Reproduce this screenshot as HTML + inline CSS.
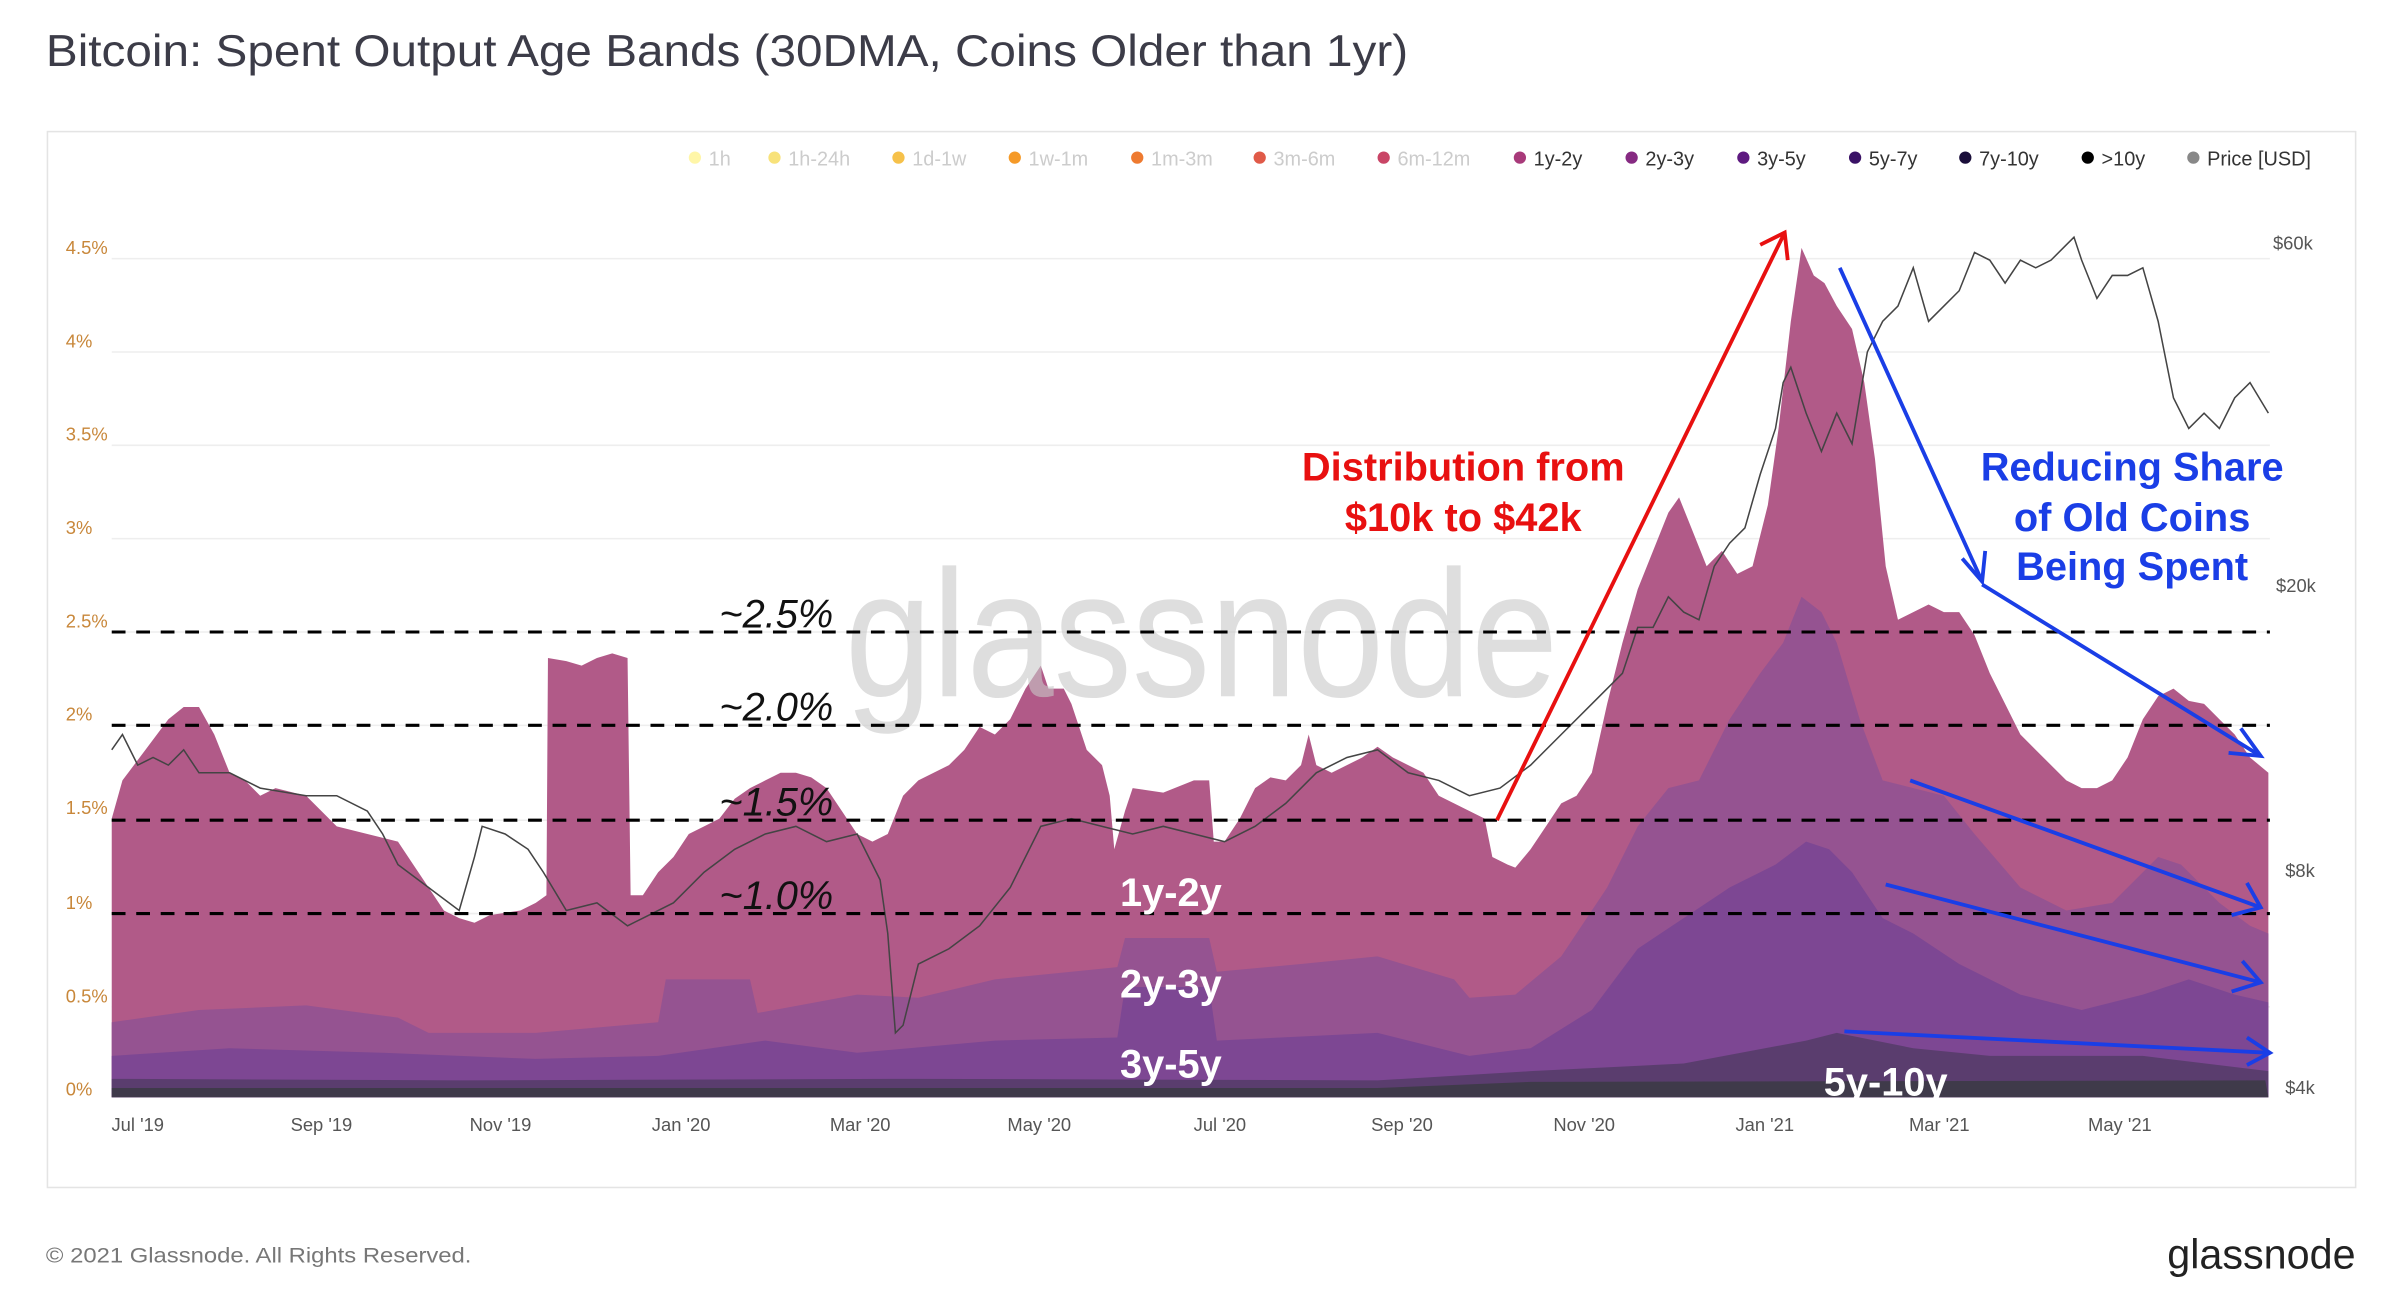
<!DOCTYPE html>
<html><head><meta charset="utf-8"><style>html,body{margin:0;padding:0;background:#fff}svg{display:block}</style></head><body>
<svg width="2400" height="1290" viewBox="0 0 1568 843" preserveAspectRatio="none" xmlns="http://www.w3.org/2000/svg" font-family="Liberation Sans, sans-serif">
<rect width="1568" height="843" fill="#fff"/>
<text x="30" y="43" font-size="29" fill="#3c3c48" textLength="890" lengthAdjust="spacingAndGlyphs">Bitcoin: Spent Output Age Bands (30DMA, Coins Older than 1yr)</text>
<rect x="31" y="86" width="1508" height="690" fill="#fff" stroke="#e4e4e4"/>
<g font-size="13">
<g fill="#ccc"><circle cx="454" cy="103" r="4" fill="#fff6a8"/><text x="463" y="108">1h</text>
<circle cx="506" cy="103" r="4" fill="#f8e27a"/><text x="515" y="108">1h-24h</text>
<circle cx="587" cy="103" r="4" fill="#f6c14a"/><text x="596" y="108">1d-1w</text>
<circle cx="663" cy="103" r="4" fill="#f59a28"/><text x="672" y="108">1w-1m</text>
<circle cx="743" cy="103" r="4" fill="#ee7a30"/><text x="752" y="108">1m-3m</text>
<circle cx="823" cy="103" r="4" fill="#e05a48"/><text x="832" y="108">3m-6m</text>
<circle cx="904" cy="103" r="4" fill="#c94566"/><text x="913" y="108">6m-12m</text></g>
<g fill="#333"><circle cx="993" cy="103" r="4" fill="#a83a7a"/><text x="1002" y="108">1y-2y</text>
<circle cx="1066" cy="103" r="4" fill="#862a82"/><text x="1075" y="108">2y-3y</text>
<circle cx="1139" cy="103" r="4" fill="#5e1a80"/><text x="1148" y="108">3y-5y</text>
<circle cx="1212" cy="103" r="4" fill="#3a1266"/><text x="1221" y="108">5y-7y</text>
<circle cx="1284" cy="103" r="4" fill="#1a0e3a"/><text x="1293" y="108">7y-10y</text>
<circle cx="1364" cy="103" r="4" fill="#000"/><text x="1373" y="108">&gt;10y</text>
<circle cx="1433" cy="103" r="4" fill="#888"/><text x="1442" y="108">Price [USD]</text></g>
</g>
<g stroke="#eee" stroke-width="1">
<line x1="73" x2="1483" y1="169" y2="169"/><line x1="73" x2="1483" y1="230" y2="230"/><line x1="73" x2="1483" y1="291" y2="291"/><line x1="73" x2="1483" y1="352" y2="352"/><line x1="73" x2="1483" y1="413" y2="413"/><line x1="73" x2="1483" y1="474" y2="474"/><line x1="73" x2="1483" y1="536" y2="536"/><line x1="73" x2="1483" y1="597" y2="597"/><line x1="73" x2="1483" y1="658" y2="658"/>
</g>
<g font-size="12" fill="#c8873a">
<text x="43" y="166">4.5%</text><text x="43" y="227">4%</text><text x="43" y="288">3.5%</text><text x="43" y="349">3%</text><text x="43" y="410">2.5%</text><text x="43" y="471">2%</text><text x="43" y="532">1.5%</text><text x="43" y="594">1%</text><text x="43" y="655">0.5%</text><text x="43" y="716">0%</text>
</g>
<g font-size="12" fill="#555"><text x="1485" y="163">$60k</text><text x="1487" y="387">$20k</text><text x="1493" y="573">$8k</text><text x="1493" y="715">$4k</text></g>
<g font-size="12" fill="#555" text-anchor="middle">
<text x="90" y="739">Jul '19</text><text x="210" y="739">Sep '19</text><text x="327" y="739">Nov '19</text><text x="445" y="739">Jan '20</text><text x="562" y="739">Mar '20</text><text x="679" y="739">May '20</text><text x="797" y="739">Jul '20</text><text x="916" y="739">Sep '20</text><text x="1035" y="739">Nov '20</text><text x="1153" y="739">Jan '21</text><text x="1267" y="739">Mar '21</text><text x="1385" y="739">May '21</text>
</g>
<polygon fill="#b15a88" points="73,717 73,535 80,510 95,490 110,470 120,462 130,462 140,480 150,505 160,510 170,520 180,515 200,520 220,540 240,545 260,550 270,565 280,580 290,595 300,600 310,603 320,598 340,595 350,590 357,585 358,430 370,432 380,435 390,430 400,427 410,430 412,585 420,585 430,570 440,560 450,545 460,540 470,535 480,522 490,515 500,510 510,505 520,505 530,508 540,515 550,530 560,545 570,550 580,545 590,520 600,510 610,505 620,500 630,490 640,475 650,480 660,470 670,450 680,435 685,450 695,450 700,460 710,490 720,500 725,520 728,555 735,530 740,515 760,518 780,510 790,510 793,550 800,550 810,535 820,515 830,508 840,510 850,500 855,480 860,500 870,505 880,500 890,495 900,488 910,495 920,500 930,505 940,520 950,525 960,530 970,535 975,560 985,565 990,567 1000,555 1010,540 1020,525 1030,520 1040,505 1050,460 1060,420 1070,385 1080,360 1090,335 1097,325 1105,345 1115,370 1125,360 1135,375 1145,370 1155,330 1162,280 1170,210 1177,162 1185,180 1192,185 1200,200 1210,215 1218,250 1225,300 1232,370 1240,405 1250,400 1260,395 1270,400 1280,400 1290,415 1300,440 1310,460 1320,480 1330,490 1340,500 1350,510 1360,515 1370,515 1380,510 1390,495 1400,470 1410,455 1420,450 1430,458 1440,460 1450,470 1460,480 1470,495 1482,505 1482,717"/>
<polygon fill="#955391" points="73,717 73,668 130,660 200,657 260,665 280,675 350,675 430,668 435,640 490,640 495,662 560,650 600,652 650,640 700,635 730,632 735,613 790,613 795,635 850,630 900,625 950,640 960,652 990,650 1020,625 1050,580 1070,540 1090,515 1110,510 1130,470 1150,440 1165,420 1177,390 1190,400 1200,420 1215,470 1230,510 1250,515 1270,520 1290,545 1320,580 1350,595 1380,590 1410,560 1425,565 1450,590 1470,605 1482,610 1482,717"/>
<polygon fill="#7d4793" points="73,717 73,690 150,685 250,688 350,692 430,690 500,680 560,688 650,680 730,678 735,645 790,645 795,680 900,675 960,690 1000,685 1040,660 1070,620 1100,600 1130,580 1160,565 1180,550 1195,555 1210,570 1230,600 1250,610 1280,630 1320,650 1360,660 1400,650 1430,640 1460,650 1482,655 1482,717"/>
<polygon fill="#5a3d6e" points="73,717 73,705 300,706 600,705 900,706 1000,700 1100,695 1180,680 1200,675 1250,685 1300,690 1400,690 1482,700 1482,717"/>
<polygon fill="#3f3a4a" points="73,717 73,711 900,711 1000,707 1480,706 1482,717"/>
<text x="552" y="455" font-size="118" fill="#c8c8c8" fill-opacity="0.6" textLength="466" lengthAdjust="spacingAndGlyphs">glassnode</text>
<polyline fill="none" stroke="#444" stroke-width="1" points="73,490 80,480 90,500 100,495 110,500 120,490 130,505 150,505 170,515 200,520 220,520 240,530 250,545 260,565 280,580 300,595 310,560 315,540 330,545 345,555 355,570 370,595 390,590 410,605 420,600 440,590 460,570 480,555 500,545 520,540 540,550 560,545 575,575 580,610 585,675 590,670 600,630 620,620 640,605 660,580 680,540 700,535 720,540 740,545 760,540 780,545 800,550 820,540 840,525 860,505 880,495 900,490 920,505 940,510 960,520 980,515 1000,500 1020,480 1040,460 1060,440 1070,410 1080,410 1090,390 1100,400 1110,405 1120,370 1130,355 1140,345 1150,310 1160,280 1165,250 1170,240 1180,270 1190,295 1200,270 1210,290 1220,230 1230,210 1240,200 1250,175 1260,210 1270,200 1280,190 1290,165 1300,170 1310,185 1320,170 1330,175 1340,170 1350,160 1355,155 1360,170 1370,195 1380,180 1390,180 1400,175 1410,210 1420,260 1430,280 1440,270 1450,280 1460,260 1470,250 1482,270"/>
<g stroke="#000" stroke-width="2" stroke-dasharray="9,7"><line x1="73" x2="1483" y1="413" y2="413"/><line x1="73" x2="1483" y1="474" y2="474"/><line x1="73" x2="1483" y1="536" y2="536"/><line x1="73" x2="1483" y1="597" y2="597"/></g>
<g font-size="26" font-style="italic" fill="#111"><text x="470" y="410">~2.5%</text><text x="470" y="471">~2.0%</text><text x="470" y="533">~1.5%</text><text x="470" y="594">~1.0%</text></g>
<g font-size="26" font-weight="bold" fill="#fff" text-anchor="middle"><text x="765" y="592">1y-2y</text><text x="765" y="652">2y-3y</text><text x="765" y="704">3y-5y</text><text x="1232" y="716">5y-10y</text></g>
<g stroke="#e81010" stroke-width="2.5" fill="none"><line x1="978" y1="536" x2="1166" y2="152"/><polyline points="1150,160 1166,152 1168,170"/></g>
<g font-size="26" font-weight="bold" fill="#e81010" text-anchor="middle"><text x="956" y="314">Distribution from</text><text x="956" y="347">$10k to $42k</text></g>
<g stroke="#1a3ee6" stroke-width="2.5" fill="none">
<line x1="1202" y1="175" x2="1295" y2="380"/><polyline points="1282,365 1295,380 1297,360"/>
<line x1="1295" y1="382" x2="1477" y2="494"/><polyline points="1464,476 1477,494 1456,492"/>
<line x1="1248" y1="510" x2="1477" y2="593"/><polyline points="1468,577 1477,593 1458,598"/>
<line x1="1232" y1="578" x2="1477" y2="642"/><polyline points="1465,628 1477,642 1458,648"/>
<line x1="1205" y1="674" x2="1483" y2="688"/><polyline points="1468,678 1483,688 1468,696"/>
</g>
<g font-size="26" font-weight="bold" fill="#1a3ee6" text-anchor="middle"><text x="1393" y="314">Reducing Share</text><text x="1393" y="347">of Old Coins</text><text x="1393" y="379">Being Spent</text></g>
<text x="30" y="825" font-size="14" fill="#777" textLength="278" lengthAdjust="spacingAndGlyphs">© 2021 Glassnode. All Rights Reserved.</text>
<text x="1539" y="829" font-size="27" fill="#222" text-anchor="end">glassnode</text>
</svg>
</body></html>
